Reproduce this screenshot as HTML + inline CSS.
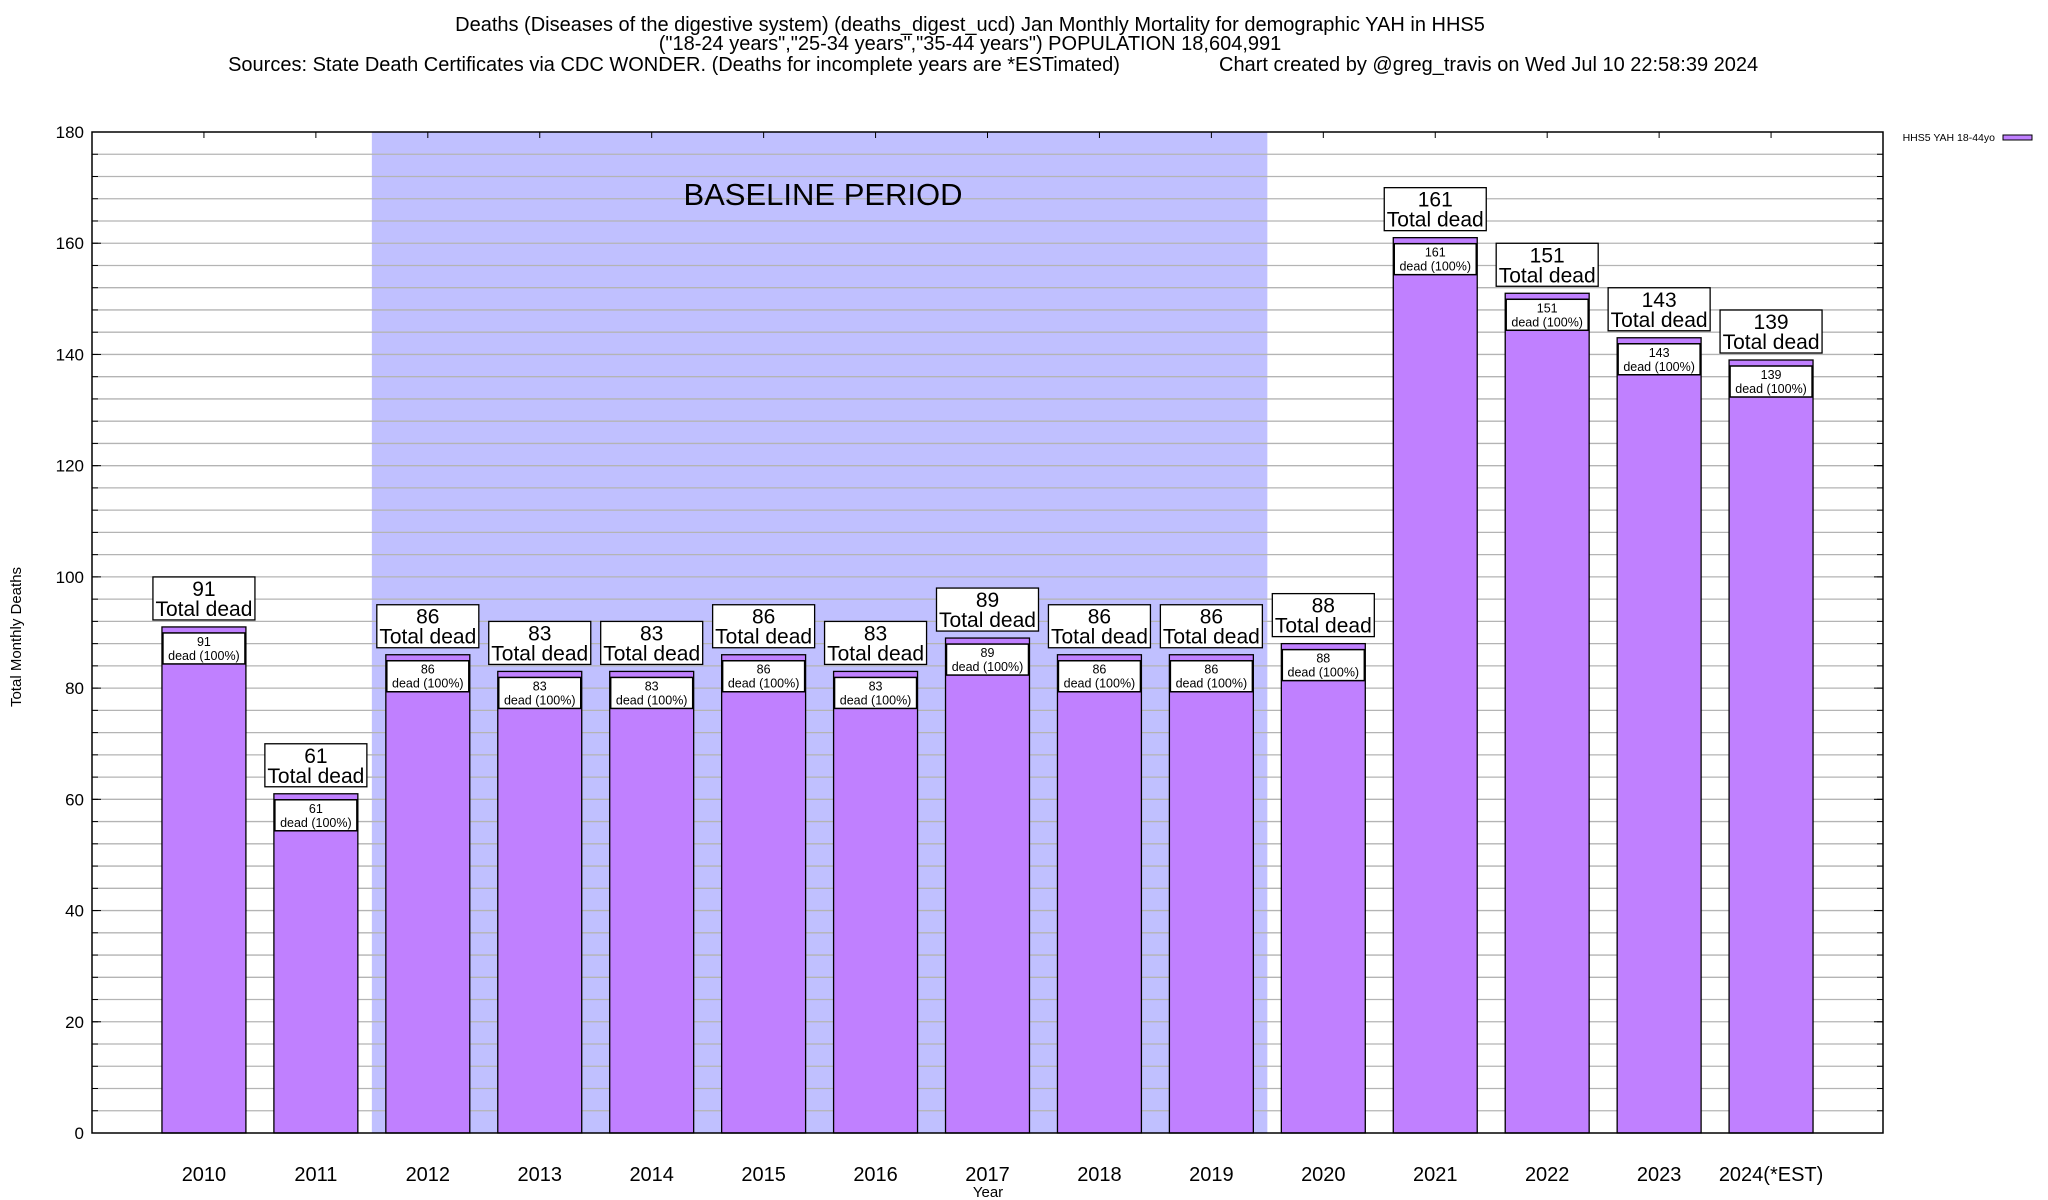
<!DOCTYPE html>
<html><head><meta charset="utf-8"><style>
body{margin:0;background:#fff;}
svg{display:block;font-family:"Liberation Sans",sans-serif;}
</style></head><body>
<svg id="chart" width="2048" height="1200" xmlns="http://www.w3.org/2000/svg">
<g font-size="20" fill="#000">
<text x="970" y="31" text-anchor="middle">Deaths (Diseases of the digestive system) (deaths_digest_ucd) Jan Monthly Mortality for demographic YAH in HHS5</text>
<text x="970" y="50" text-anchor="middle">("18-24 years","25-34 years","35-44 years") POPULATION 18,604,991</text>
<text x="674" y="71" text-anchor="middle">Sources: State Death Certificates via CDC WONDER. (Deaths for incomplete years are *ESTimated)</text>
<text x="1219" y="71" text-anchor="start">Chart created by @greg_travis on Wed Jul 10 22:58:39 2024</text>
</g>
<g id="plot"></g>
</svg>
<script>
const categories = ["2010","2011","2012","2013","2014","2015","2016","2017","2018","2019","2020","2021","2022","2023","2024(*EST)"];
const deaths = [91,61,86,83,83,86,83,89,86,86,88,161,151,143,139];
const yTicks = [0,20,40,60,80,100,120,140,160,180];
const baselineRange = ["2012","2019"];

const L=92,R=1883,T=132,B=1133,yMax=180;
const NS="http://www.w3.org/2000/svg";
const step=(R-L)/(categories.length+1);
function xs(i){return L+step*(i+1);}
function ys(v){return B-(v/yMax)*(B-T);}
const g=document.getElementById('plot');
function mk(tag,attrs,parent){const e=document.createElementNS(NS,tag);for(const k in attrs)e.setAttribute(k,attrs[k]);(parent||g).appendChild(e);return e;}

const b0=categories.indexOf(baselineRange[0]),b1=categories.indexOf(baselineRange[1]);
const shade=mk('rect',{x:xs(b0)-step/2,y:T,width:step*(b1-b0+1),height:B-T,fill:'#c0c0ff'});



for(let v=4;v<yMax;v+=4){
  const ln=mk('line',{x1:L,x2:R,y1:ys(v),y2:ys(v),stroke:'#b4b4b4','stroke-width':1.3});
  
  
  mk('line',{x1:L,x2:L+6,y1:ys(v),y2:ys(v),stroke:'#000'});
  mk('line',{x1:R-6,x2:R,y1:ys(v),y2:ys(v),stroke:'#000'});
}
const bl=mk('text',{x:823,y:205,'font-size':31,'text-anchor':'middle'});
bl.textContent='BASELINE PERIOD';



yTicks.forEach(v=>{
  const t=mk('text',{x:84,y:ys(v)+6,'font-size':17,'text-anchor':'end'});
  t.textContent=v;
  
  
  mk('line',{x1:L,x2:L+9,y1:ys(v),y2:ys(v),stroke:'#000'});
  mk('line',{x1:R-9,x2:R,y1:ys(v),y2:ys(v),stroke:'#000'});
});

const bw=step*0.75;
categories.forEach((c,i)=>{
  const cx=xs(i),v=deaths[i],y=ys(v);
  const bar=mk('rect',{x:cx-bw/2,y:y,width:bw,height:B-y,fill:'#c080ff',stroke:'#000','stroke-width':1.3});
  
  
  mk('line',{x1:cx,x2:cx,y1:T,y2:T+6,stroke:'#000'});
  const ib=mk('rect',{x:cx-41,y:y+6,width:82,height:31,fill:'#fff',stroke:'#000','stroke-width':1.5});
  
  
  const it1=mk('text',{x:cx,y:y+19,'font-size':12.5,'text-anchor':'middle'});it1.textContent=v;
  
  
  const it2=mk('text',{x:cx,y:y+33,'font-size':12.5,'text-anchor':'middle'});it2.textContent='dead (100%)';
  
  
  const ob=mk('rect',{x:cx-51,y:y-50,width:102,height:43,fill:'#fff',stroke:'#000','stroke-width':1.3});
  
  
  const o1=mk('text',{x:cx,y:y-31,'font-size':21,'text-anchor':'middle'});o1.textContent=v;
  
  
  const o2=mk('text',{x:cx,y:y-11,'font-size':21,'text-anchor':'middle'});o2.textContent='Total dead';
  
  
  const xl=mk('text',{x:cx,y:1181,'font-size':20,'text-anchor':'middle'});xl.textContent=c;
  
  
});

const frame=mk('rect',{x:L,y:T,width:R-L,height:B-T,fill:'none',stroke:'#000','stroke-width':1.5});



const xt=mk('text',{x:988,y:1197,'font-size':15,'text-anchor':'middle'});xt.textContent='Year';


const yt=mk('text',{x:0,y:0,'font-size':15,'text-anchor':'middle',transform:'translate(21,637) rotate(-90)'});yt.textContent='Total Monthly Deaths';



const lt=mk('text',{x:1995,y:141,'font-size':10.5,'text-anchor':'end'});lt.textContent='HHS5 YAH 18-44yo';


const ls=mk('rect',{x:2003,y:135,width:29,height:5,fill:'#c080ff',stroke:'#000','stroke-width':1});


</script>
</body></html>
